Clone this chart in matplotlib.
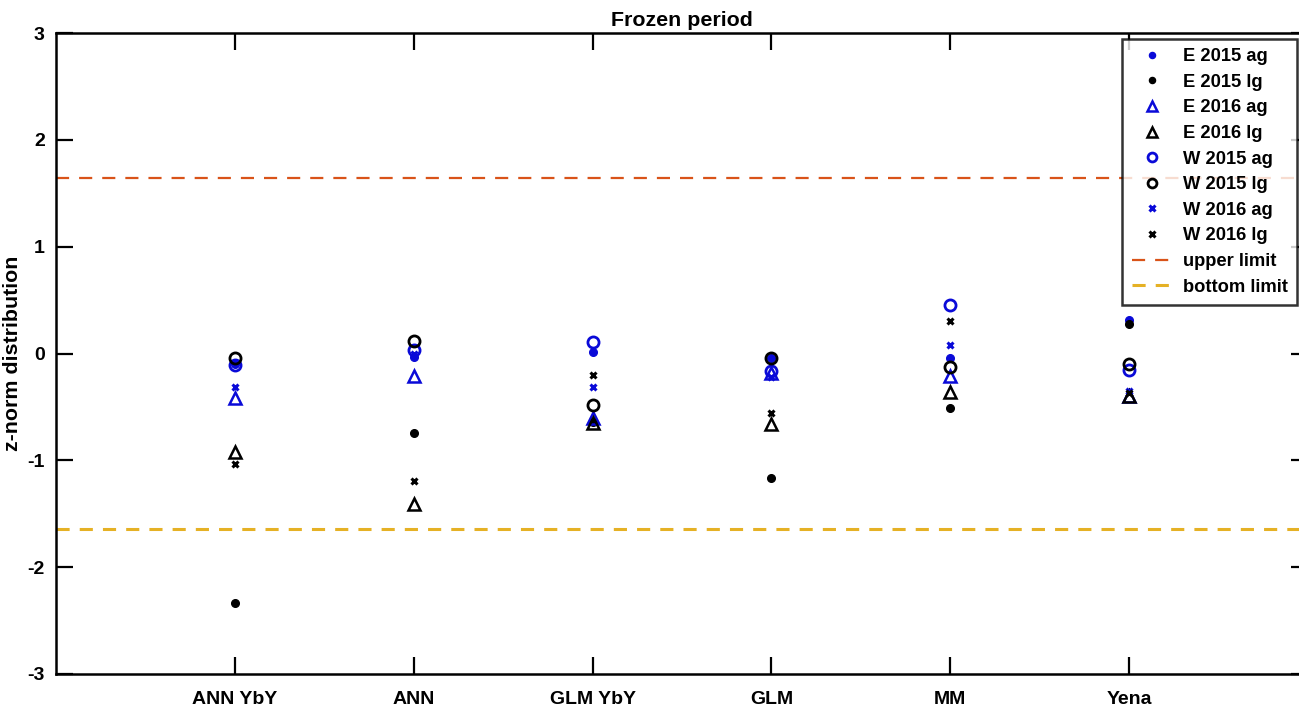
import numpy as np
import matplotlib
matplotlib.use("Agg")
import matplotlib.pyplot as plt

plt.rcParams['font.family'] = ['Liberation Sans', 'DejaVu Sans']
plt.rcParams['font.weight'] = 'bold'
plt.rcParams['axes.unicode_minus'] = False

models = ['ANN YbY', 'ANN', 'GLM YbY', 'GLM', 'MM', 'Yena']

# z-norm values, one list per series
e2015_ag = [-0.10, -0.03, 0.01, -0.04, -0.04, 0.31]
e2015_lg = [-2.34, -0.74, -0.64, -1.17, -0.51, 0.28]
e2016_ag = [-0.42, -0.21, -0.60, -0.18, -0.21, -0.40]
e2016_lg = [-0.92, -1.41, -0.65, -0.66, -0.36, -0.40]
w2015_ag = [-0.11, 0.03, 0.11, -0.16, 0.45, -0.15]
w2015_lg = [-0.04, 0.12, -0.48, -0.04, -0.13, -0.10]
w2016_ag = [-0.31, 0.00, -0.31, -0.22, 0.08, -0.35]
w2016_lg = [-1.03, -1.19, -0.20, -0.56, 0.30, -0.37]

upper_limit = 1.645
bottom_limit = -1.645

blue = '#0a0ad8'
x = np.arange(1, len(models) + 1)

fig = plt.figure(figsize=(12.99, 7.06), dpi=100)
ax = fig.add_axes([56 / 1299, 1 - 674 / 706, (1308 - 56) / 1299, (674 - 33) / 706])

ax.plot(x, e2015_ag, 'o', color=blue, ms=5.5, ls='none', label='E 2015 ag')
ax.plot(x, e2015_lg, 'o', color='k', ms=5.5, ls='none', label='E 2015 lg')
ax.plot(x, e2016_ag, '^', mfc='none', mec=blue, ms=9, mew=1.8, ls='none', label='E 2016 ag')
ax.plot(x, e2016_lg, '^', mfc='none', mec='k', ms=9, mew=1.8, ls='none', label='E 2016 lg')
ax.plot(x, w2015_ag, 'o', mfc='none', mec=blue, ms=8, mew=2, ls='none', label='W 2015 ag')
ax.plot(x, w2015_lg, 'o', mfc='none', mec='k', ms=8, mew=2, ls='none', label='W 2015 lg')
ax.plot(x, w2016_ag, 'x', color=blue, ms=5, mew=2.2, ls='none', label='W 2016 ag')
ax.plot(x, w2016_lg, 'x', color='k', ms=5, mew=2.2, ls='none', label='W 2016 lg')
ax.axhline(upper_limit, color='#D95319', ls=(0, (5.9, 4.5)), lw=1.6, label='upper limit')
ax.axhline(bottom_limit, color='#E5B125', ls=(0, (4.3, 3.3)), lw=2.2, label='bottom limit')

ax.set_xlim(0, 7)
ax.set_ylim(-3, 3)
ax.set_xticks(x)
ax.set_xticklabels(models)
ax.set_yticks([-3, -2, -1, 0, 1, 2, 3])
ax.tick_params(direction='in', length=12, width=1.6, top=True, right=True,
               labelsize=14)
ax.tick_params(axis='x', pad=12)
ax.tick_params(axis='y', pad=8)
for s in ax.spines.values():
    s.set_linewidth(1.8)
ax.set_ylabel('z-norm distribution', fontsize=15.4, fontweight='bold', labelpad=4)
ax.set_title('Frozen period', fontsize=15.4, fontweight='bold', pad=5)

leg = ax.legend(loc='upper right', bbox_to_anchor=(1297 / 1299, 1 - 39 / 706),
                bbox_transform=fig.transFigure, fontsize=13.2, frameon=True,
                fancybox=False, edgecolor='k', labelspacing=0.47,
                handlelength=2.2, handletextpad=0.6, borderpad=0.5,
                borderaxespad=0, markerscale=0.8)
leg.get_frame().set_linewidth(1.8)

fig.savefig('out.png', dpi=100)
